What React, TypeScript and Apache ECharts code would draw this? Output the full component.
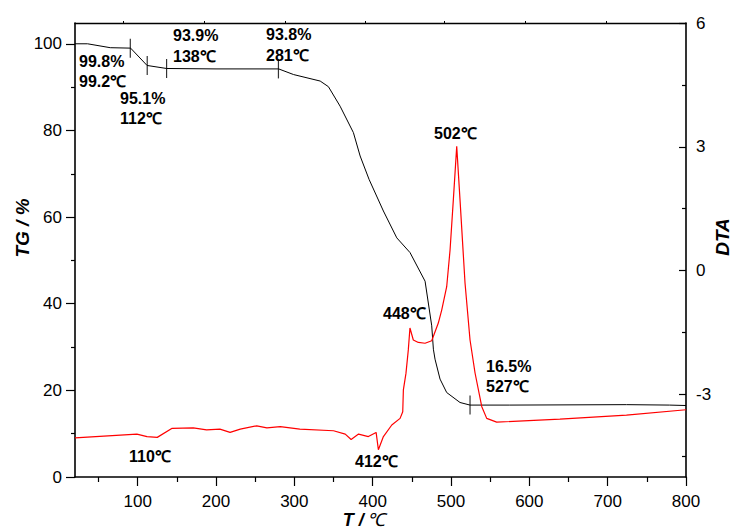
import React, { useEffect, useRef } from "react";
import * as echarts from "echarts";

// TG curve (temperature °C, mass %)
const tgData: [number, number][] = [
  [20, 100], [36, 100], [65, 99.1], [91, 99.0], [112, 95.0], [137, 94.3], [200, 94.2],
  [280, 94.2], [299, 92.9], [333, 91.4], [343.5, 90.1], [358.4, 85.6], [375.4, 79.5],
  [384, 74.1], [395.4, 68.7], [413.7, 61.4], [430.8, 55.2], [447.7, 51.8], [466.9, 45.2],
  [475.4, 34.9], [477.5, 29.5], [479.6, 27.2], [486, 22.6], [494.5, 19.5], [511.5, 17.2],
  [524.3, 16.6], [575, 16.6], [724, 16.7], [779, 16.6], [800, 16.5],
];

// DTA curve (temperature °C, DTA signal)
const dtaData: [number, number][] = [
  [20, -4.05], [99, -3.96], [112, -4.02], [125, -4.04], [144, -3.82], [171, -3.81],
  [188, -3.86], [205, -3.84], [218, -3.92], [231, -3.84], [252, -3.76], [265, -3.81],
  [282, -3.78], [307, -3.84], [350, -3.88], [365, -3.96], [372.5, -4.09], [382, -3.96],
  [394.5, -4.02], [404.4, -3.92], [407.3, -4.34], [413.7, -4.02], [424.4, -3.74],
  [435, -3.58], [438.4, -3.42], [439.2, -2.89], [442.5, -2.49], [445.5, -1.92],
  [447.6, -1.39], [451.9, -1.68], [458.3, -1.74], [466.9, -1.76], [475.4, -1.7],
  [483.8, -1.27], [488.2, -0.95], [494.5, -0.39], [498.8, 0.5], [503, 1.72], [507.3, 3.01],
  [511.5, 1.72], [517.9, -0.3], [524.3, -1.68], [530.7, -2.48], [539.2, -3.29],
  [545.6, -3.58], [558.3, -3.67], [639, -3.6], [724, -3.5], [800, -3.37],
];

// Short vertical markers on the TG curve
const tgMarkers: [number, number][] = [
  [90.6, 99.0], [112.2, 95.0], [136.9, 94.3], [279.7, 94.2], [524.3, 16.6],
];

const xTicks = [100, 200, 300, 400, 500, 600, 700, 800];
const xMinorTicks = [50, 150, 250, 350, 450, 550, 650, 750];
const xTopTicks = [82, 185, 288, 390, 492, 595, 698];
const tgTicks = [0, 20, 40, 60, 80, 100];
const tgMinorTicks = [10, 30, 50, 70, 90];
const dtaTicks = [-3, 0, 3, 6];
const dtaMinorTicks = [-4.5, -1.5, 1.5, 4.5];

const annotationTexts = [
  "99.8%", "99.2℃", "95.1%", "112℃", "93.9%", "138℃", "93.8%", "281℃",
  "502℃", "448℃", "16.5%", "527℃", "110℃", "412℃",
];
// layout of annotation texts (left x, middle y in px)
const annotationLayout: [number, number][] = [
  [79, 61], [79, 81], [120, 98], [120, 118], [173, 35], [173, 56], [266, 34], [266, 55],
  [434, 133], [383, 313], [486, 366], [486, 386], [129, 456], [355, 461],
];

const FONT = "'Liberation Sans', Arial, Helvetica, sans-serif";

export default function App() {
  const ref = useRef<HTMLDivElement>(null);
  useEffect(() => {
    if (!ref.current) return;
    const chart = echarts.init(ref.current, null, { renderer: "svg" });
    const axisLine = { show: true, onZero: false, lineStyle: { color: "#000", width: 1.6 } };
    const noLine = { show: false, onZero: false };
    const labelStyle = { color: "#000", fontSize: 17, fontFamily: FONT, lineHeight: 17 };
    const option: any = {
      animation: false,
      backgroundColor: "#fff",
      grid: { left: 75, right: 47, top: 23, bottom: 52 },
      xAxis: [
        {
          type: "value", position: "bottom", min: 20, max: 800,
          axisLine,
          axisTick: { show: true, inside: false, length: 9, customValues: xTicks, lineStyle: { color: "#000", width: 1.2 } },
          axisLabel: { ...labelStyle, margin: 16, customValues: xTicks },
          splitLine: { show: false },
        },
        {
          type: "value", position: "bottom", min: 20, max: 800,
          axisLine: noLine,
          axisTick: { show: true, inside: false, length: 5, customValues: xMinorTicks, lineStyle: { color: "#000", width: 1.2 } },
          axisLabel: { show: false },
          splitLine: { show: false },
        },
        {
          type: "value", position: "top", min: 20, max: 800,
          axisLine: { show: true, onZero: false, lineStyle: { color: "#000", width: 1.4 } },
          axisTick: { show: true, inside: false, length: 2, customValues: xTopTicks, lineStyle: { color: "#000", width: 1 } },
          axisLabel: { show: false },
          splitLine: { show: false },
        },
      ],
      yAxis: [
        {
          type: "value", position: "left", min: 0, max: 104.8,
          axisLine,
          axisTick: { show: true, inside: false, length: 9, customValues: tgTicks, lineStyle: { color: "#000", width: 1.2 } },
          axisLabel: { ...labelStyle, margin: 13, customValues: tgTicks },
          splitLine: { show: false },
        },
        {
          type: "value", position: "left", min: 0, max: 104.8,
          axisLine: noLine,
          axisTick: { show: true, inside: false, length: 4, customValues: tgMinorTicks, lineStyle: { color: "#000", width: 1.2 } },
          axisLabel: { show: false },
          splitLine: { show: false },
        },
        {
          type: "value", position: "right", min: -5, max: 6,
          axisLine,
          axisTick: { show: true, inside: true, length: 7, customValues: dtaTicks, lineStyle: { color: "#000", width: 1.2 } },
          axisLabel: { ...labelStyle, margin: 10, customValues: dtaTicks },
          splitLine: { show: false },
        },
        {
          type: "value", position: "right", min: -5, max: 6,
          axisLine: noLine,
          axisTick: { show: true, inside: true, length: 4, customValues: dtaMinorTicks, lineStyle: { color: "#000", width: 1.2 } },
          axisLabel: { show: false },
          splitLine: { show: false },
        },
      ],
      series: [
        {
          name: "TG", type: "line", xAxisIndex: 0, yAxisIndex: 0, data: tgData,
          showSymbol: false, symbol: "none",
          lineStyle: { color: "#000", width: 1 },
        },
        {
          name: "DTA", type: "line", xAxisIndex: 0, yAxisIndex: 2, data: dtaData,
          showSymbol: false, symbol: "none",
          lineStyle: { color: "#ff0000", width: 1.2 },
        },
        {
          name: "TG markers", type: "scatter", xAxisIndex: 0, yAxisIndex: 0, data: tgMarkers,
          symbol: "rect", symbolSize: [1.2, 19],
          itemStyle: { color: "#000" },
        },
      ],
      graphic: [
        ...annotationTexts.map((t, i) => ({
          type: "text",
          x: annotationLayout[i][0],
          y: annotationLayout[i][1],
          style: {
            text: t, fill: "#000",
            font: `bold 16px ${FONT}`,
            align: "left", verticalAlign: "middle",
            textAlign: "left", textVerticalAlign: "middle",
          },
        })),
        {
          type: "text", x: 22, y: 228, rotation: Math.PI / 2,
          style: {
            text: "TG / %", fill: "#000", font: `italic bold 19px ${FONT}`,
            align: "center", verticalAlign: "middle", textAlign: "center", textVerticalAlign: "middle",
          },
        },
        {
          type: "text", x: 722, y: 237, rotation: Math.PI / 2,
          style: {
            text: "DTA", fill: "#000", font: `italic bold 19px ${FONT}`,
            align: "center", verticalAlign: "middle", textAlign: "center", textVerticalAlign: "middle",
          },
        },
        {
          type: "text", x: 364, y: 520,
          style: {
            text: "{b|T /} {c|℃}", fill: "#000",
            align: "center", verticalAlign: "middle", textAlign: "center", textVerticalAlign: "middle",
            rich: {
              b: { font: `italic bold 18px ${FONT}`, fill: "#000", color: "#000", lineHeight: 18 },
              c: { font: `italic 18px ${FONT}`, fill: "#000", color: "#000", lineHeight: 18 },
            },
          },
        },
      ],
    };
    chart.setOption(option);
    return () => chart.dispose();
  }, []);
  return (
    <div
      ref={ref}
      style={{ position: "absolute", left: 0, top: 0, width: 733, height: 529 }}
    />
  );
}
